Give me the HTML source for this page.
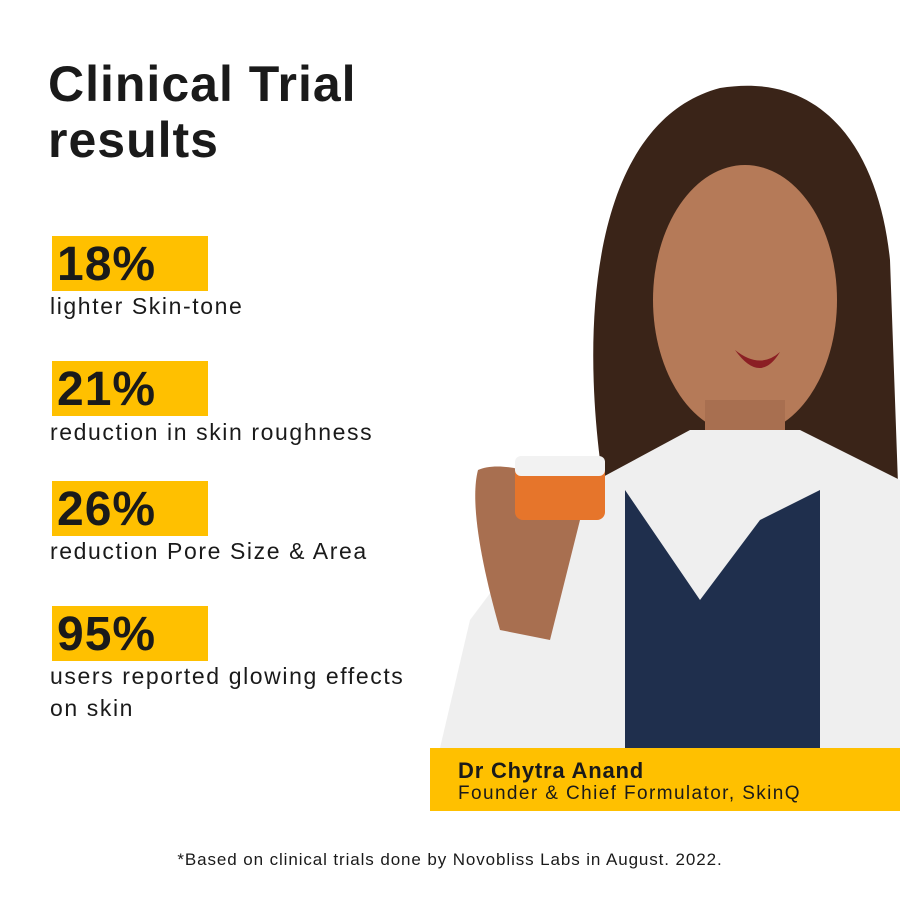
<!DOCTYPE html>
<html><head><meta charset="utf-8"><style>
body{margin:0;width:900px;height:900px;background:#fff;position:relative;overflow:hidden;font-family:"Liberation Sans",sans-serif;color:#1a1a1a}
.t{position:absolute;left:48px;top:56px;font-size:50px;font-weight:bold;line-height:56px;letter-spacing:1px}
.y{position:absolute;left:52px;width:156px;height:55px;background:#FFC000}
.n{position:absolute;left:57px;font-size:48px;font-weight:bold;line-height:55px;letter-spacing:1px}
.s{position:absolute;left:50px;font-size:23px;line-height:32px;letter-spacing:1.6px}
</style></head><body>
<svg width="900" height="900" style="position:absolute;left:0;top:0">
<path d="M600 460 C580 300 600 120 720 88 C830 70 880 160 890 260 L900 540 L600 540Z" fill="#3a2418"/>
<ellipse cx="745" cy="300" rx="92" ry="135" fill="#b57a58"/>
<rect x="705" y="400" width="80" height="90" fill="#a86f50"/>
<path d="M560 500 L690 430 L800 430 L900 480 L900 748 L440 748 L470 620 Z" fill="#efefef"/>
<path d="M625 490 L700 600 L760 520 L820 490 L820 748 L625 748Z" fill="#1f2f4d"/>
<path d="M478 470 C500 460 560 470 580 520 L550 640 L500 630 C480 560 470 500 478 470Z" fill="#a86f50"/>
<rect x="515" y="458" width="90" height="62" rx="8" fill="#e6752b"/>
<rect x="515" y="456" width="90" height="20" rx="6" fill="#f2f2f2"/>
<path d="M735 350 Q760 370 780 352 Q760 385 735 350Z" fill="#8b1f24"/>
</svg>
<div class="t">Clinical Trial<br>results</div>
<div class="y" style="top:236px"></div><div class="n" style="top:237px">18%</div>
<div class="s" style="top:290px">lighter Skin-tone</div>
<div class="y" style="top:361px"></div><div class="n" style="top:362px">21%</div>
<div class="s" style="top:416px">reduction in skin roughness</div>
<div class="y" style="top:481px"></div><div class="n" style="top:482px">26%</div>
<div class="s" style="top:535px">reduction Pore Size &amp; Area</div>
<div class="y" style="top:606px"></div><div class="n" style="top:607px">95%</div>
<div class="s" style="top:660px">users reported glowing effects<br>on skin</div>
<div style="position:absolute;left:430px;top:748px;width:470px;height:63px;background:#FFC000"></div>
<div style="position:absolute;left:458px;top:758px;font-size:22px;font-weight:bold;line-height:26px;letter-spacing:0.8px">Dr Chytra Anand</div>
<div style="position:absolute;left:458px;top:782px;font-size:19px;line-height:24px;letter-spacing:1.4px">Founder &amp; Chief Formulator, SkinQ</div>
<div style="position:absolute;left:0;width:900px;top:850px;text-align:center;font-size:17px;letter-spacing:0.9px">*Based on clinical trials done by Novobliss Labs in August. 2022.</div>
</body></html>
